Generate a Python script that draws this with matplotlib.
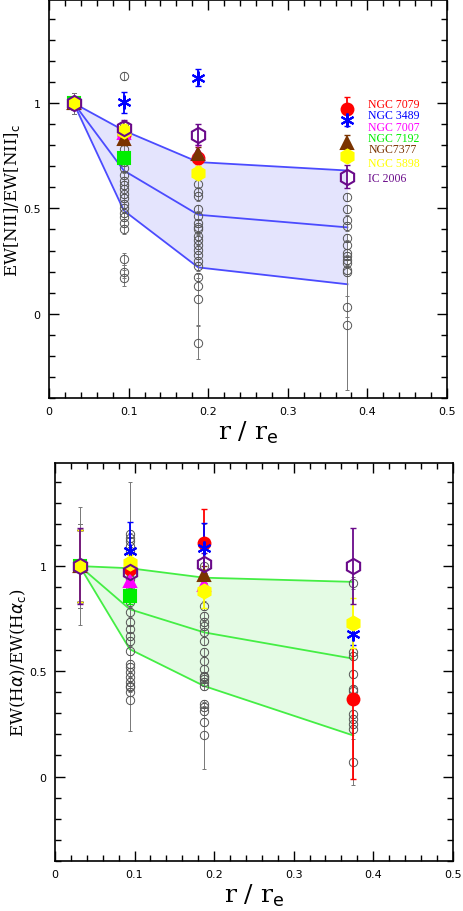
import numpy as np
import matplotlib
matplotlib.use('Agg')
import matplotlib.pyplot as plt
from matplotlib.ticker import MultipleLocator

# radial bins (r/r_e)
r_bins = [0.031, 0.094, 0.1875, 0.375]

# ---- top panel: EW[NII] ----
nii_upper = [1.0, 0.87, 0.72, 0.68]
nii_mid = [1.0, 0.68, 0.47, 0.41]
nii_lower = [1.0, 0.49, 0.22, 0.14]

nii_gray = [
    [1.0] * 10,
    [1.13, 0.89, 0.86, 0.84, 0.82, 0.78, 0.72, 0.69, 0.66, 0.63, 0.61, 0.59, 0.57,
     0.55, 0.52, 0.50, 0.48, 0.46, 0.43, 0.40, 0.26, 0.20, 0.17],
    [0.615, 0.58, 0.557, 0.497, 0.466, 0.43, 0.41, 0.40, 0.368, 0.352, 0.328,
     0.305, 0.28, 0.25, 0.225, 0.175, 0.13, 0.068, -0.137],
    [0.553, 0.497, 0.447, 0.415, 0.36, 0.328, 0.289, 0.273, 0.257, 0.242, 0.21,
     0.20, 0.033, -0.052],
]
nii_gray_err = [
    [0.05] * 10,
    [0.02] * 20 + [0.03, 0.03, 0.04],
    [0.02] * 16 + [0.04, 0.12, 0.08],
    [0.02] * 12 + [0.05, 0.31],
]

# ---- bottom panel: EW(Halpha) ----
ha_upper = [1.0, 0.99, 0.945, 0.925]
ha_mid = [1.0, 0.795, 0.685, 0.56]
ha_lower = [1.0, 0.605, 0.43, 0.195]

ha_gray = [
    [1.0] * 10,
    [1.152, 1.136, 1.12, 1.096, 1.073, 0.97, 0.938, 0.907, 0.875, 0.828, 0.78,
     0.733, 0.70, 0.669, 0.645, 0.598, 0.535, 0.519, 0.495, 0.472, 0.448, 0.432,
     0.424, 0.403, 0.365],
    [1.0, 0.812, 0.764, 0.733, 0.717, 0.685, 0.645, 0.59, 0.551, 0.511, 0.479,
     0.472, 0.464, 0.448, 0.432, 0.345, 0.329, 0.313, 0.258, 0.195],
    [0.919, 0.593, 0.574, 0.487, 0.416, 0.408, 0.298, 0.274, 0.25, 0.226, 0.068],
]
ha_gray_err = [
    [0.28] + [0.2] * 9,
    [0.02] * 5 + [0.43] + [0.02] * 18 + [0.15],
    [0.2] + [0.02] * 18 + [0.16],
    [0.03] + [0.02] * 9 + [0.11],
]

# ---- individual galaxies ----
galaxies = ['NGC 7079', 'NGC 3489', 'NGC 7007', 'NGC 7192', 'NGC7377', 'NGC 5898', 'IC 2006']
gal_colors = ['#ff0000', '#0000ff', '#ff00ff', '#00ee00', '#7a3300', '#ffff00', '#6a0a8a']
gal_markers = ['o', (6, 2, 0), '^', 's', '^', 'h', 'h']
gal_filled = [True, True, True, True, True, True, False]
gal_ms = [10, 10, 8, 8, 8, 10, 11]

nii_gal = [
    [1.0, 0.85, 0.74, 0.97],
    [1.0, 1.005, 1.12, 0.92],
    [1.0, 0.86, 0.76, np.nan],
    [1.0, 0.74, np.nan, np.nan],
    [1.0, 0.83, 0.76, 0.81],
    [1.0, 0.87, 0.67, 0.75],
    [1.0, 0.88, 0.85, 0.65],
]
nii_gal_err = [
    [0.03, 0.03, 0.03, 0.06],
    [0.03, 0.05, 0.04, 0.03],
    [0.03, 0.03, 0.04, 0.0],
    [0.03, 0.03, 0.0, 0.0],
    [0.03, 0.03, 0.03, 0.04],
    [0.03, 0.03, 0.03, 0.03],
    [0.03, 0.04, 0.05, 0.055],
]

ha_gal = [
    [1.0, 0.985, 1.11, 0.37],
    [1.0, 1.07, 1.085, 0.675],
    [1.0, 0.93, 0.91, np.nan],
    [1.0, 0.86, np.nan, np.nan],
    [1.0, np.nan, 0.96, np.nan],
    [1.0, 1.015, 0.88, 0.73],
    [1.0, 0.97, 1.01, 1.0],
]
ha_gal_err = [
    [0.17, 0.04, 0.16, 0.38],
    [0.17, 0.14, 0.12, 0.05],
    [0.17, 0.04, 0.04, 0.0],
    [0.17, 0.04, 0.0, 0.0],
    [0.17, 0.0, 0.04, 0.0],
    [0.17, 0.04, 0.08, 0.12],
    [0.18, 0.04, 0.05, 0.18],
]

# label positions for the galaxy names (top panel)
label_x = 0.401
label_y = [0.997, 0.945, 0.886, 0.834, 0.782, 0.718, 0.645]

tick_font = {'family': 'DejaVu Sans', 'size': 8}


def draw_panel(ax, upper, mid, lower, gray, gray_err, gal, gal_err, line_col, fill_col):
    ax.fill_between(r_bins, lower, upper, color=fill_col, lw=0, zorder=1)
    for curve in (upper, mid, lower):
        ax.plot(r_bins, curve, color=line_col, lw=1.3, zorder=2)

    for x, vals, errs in zip(r_bins, gray, gray_err):
        ax.errorbar([x] * len(vals), vals, yerr=errs, fmt='o', ms=6, mfc='none',
                    mec='#555555', mew=0.7, ecolor='#777777', elinewidth=0.7,
                    capsize=1.5, zorder=3)

    for vals, errs, c, m, filled, ms in zip(gal, gal_err, gal_colors, gal_markers,
                                            gal_filled, gal_ms):
        ax.errorbar(r_bins, vals, yerr=errs, fmt='none', ecolor=c, elinewidth=1.3,
                    capsize=2, zorder=4)
        ax.plot(r_bins, vals, ls='none', marker=m, ms=ms,
                mfc=c if filled else 'none', mec=c, mew=1.5 if m != 'o' else 0,
                zorder=5)

    ax.set_xlim(0, 0.5)
    ax.set_ylim(-0.4, 1.49)
    ax.xaxis.set_minor_locator(MultipleLocator(0.02))
    ax.yaxis.set_minor_locator(MultipleLocator(0.1))
    ax.set_xticks([0, 0.1, 0.2, 0.3, 0.4, 0.5])
    ax.set_xticklabels(['0', '0.1', '0.2', '0.3', '0.4', '0.5'], fontdict=tick_font)
    ax.set_yticks([0, 0.5, 1])
    ax.set_yticklabels(['0', '0.5', '1'], fontdict=tick_font)
    ax.tick_params(which='both', direction='in', top=True, right=True, width=1)
    ax.tick_params(which='major', length=7, pad=6)
    ax.tick_params(which='minor', length=4)
    for sp in ax.spines.values():
        sp.set_linewidth(1.2)
    ax.set_xlabel(r'r / r$_{\rm e}$', family='DejaVu Serif', fontsize=18, labelpad=2)


fig = plt.figure(figsize=(4.63, 9.12), dpi=100)
ax1 = fig.add_axes([0.1058, 0.5625, 0.8596, 0.4365])
ax2 = fig.add_axes([0.1188, 0.0552, 0.859, 0.436])

draw_panel(ax1, nii_upper, nii_mid, nii_lower, nii_gray, nii_gray_err,
           nii_gal, nii_gal_err, '#4b4bff', '#e4e4fd')
draw_panel(ax2, ha_upper, ha_mid, ha_lower, ha_gray, ha_gray_err,
           ha_gal, ha_gal_err, '#44ee44', '#e4fbe4')

ax1.set_ylabel(r'EW[NII]/EW[NII]$_{\rm c}$', family='DejaVu Serif', fontsize=12,
               labelpad=1)
ax2.set_ylabel(r'EW(H$\alpha$)/EW(H$\alpha_{\rm c}$)', family='DejaVu Serif',
               fontsize=12, labelpad=1)

for name, c, y in zip(galaxies, gal_colors, label_y):
    ax1.text(label_x, y, name, color=c, fontsize=8.5, family='Liberation Serif',
             va='center', ha='left', zorder=6)

fig.savefig('out.png', dpi=100)
